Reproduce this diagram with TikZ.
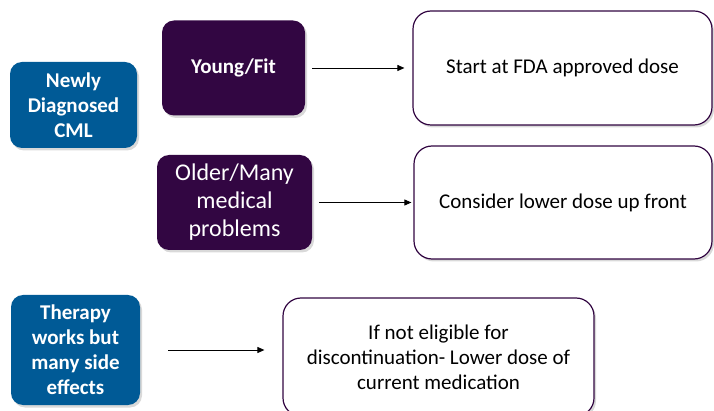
\documentclass[tikz,border=0pt]{standalone}
\usepackage{fontspec}
\setmainfont{Carlito}
\usetikzlibrary{arrows.meta, positioning, shadows}
\definecolor{cmlblue}{RGB}{0,90,150}
\definecolor{cmlpurple}{RGB}{50,6,66}

\begin{document}
\begin{tikzpicture}[x=1pt, y=-1pt,
  shade/.style={drop shadow={shadow xshift=2pt, shadow yshift=-2.5pt, opacity=0.3}},
  bluebox/.style={shade, fill=cmlblue, rounded corners=12pt, text=white, align=center, inner sep=0pt,
    font=\fontsize{21}{25}\selectfont\bfseries},
  purplebox/.style={shade, fill=cmlpurple, rounded corners=12pt, text=white, align=center, inner sep=0pt,
    font=\fontsize{21}{25}\selectfont\bfseries},
  whitebox/.style={shade, draw=cmlpurple, line width=1.2pt, fill=white, rounded corners=18pt, align=center,
    inner sep=0pt, font=\fontsize{21}{25}\selectfont},
  arr/.style={-{Triangle[length=7pt, width=6pt]}, line width=0.9pt}]
  \clip (0,0) rectangle (714,411);
  % Newly diagnosed
  \node[bluebox, minimum width=127pt, minimum height=86pt] (newly) at (73.5,105) {Newly\\Diagnosed\\CML};
  \node[purplebox, minimum width=143pt, minimum height=95pt] (young) at (233.5,68) {Young/Fit};
  \node[purplebox, minimum width=155pt, minimum height=95pt, font=\fontsize{24}{28}\selectfont] (older) at (234.5,202.5) {Older/Many\\medical\\problems};
  \node[whitebox, minimum width=299pt, minimum height=114pt] (start) at (562.5,68) {Start at FDA approved dose};
  \node[whitebox, minimum width=298pt, minimum height=113pt] (lower) at (563,202.5) {Consider lower dose up front};
  \draw[arr, shorten <=7pt, shorten >=8pt] (young) -- (start);
  \draw[arr, shorten <=7pt, shorten >=2pt] (older) -- (lower);
  % Side effects
  \node[bluebox, minimum width=129pt, minimum height=110pt] (therapy) at (75.5,350) {Therapy\\works but\\many side\\effects};
  \node[whitebox, minimum width=311pt, minimum height=118pt] (noteligible) at (438.5,357) {If not eligible for\\discontinuation- Lower dose of\\current medication};
  \draw[arr, shorten <=28pt, shorten >=18pt] (therapy.east) -- (therapy.east -| noteligible.west);
\end{tikzpicture}
\end{document}
